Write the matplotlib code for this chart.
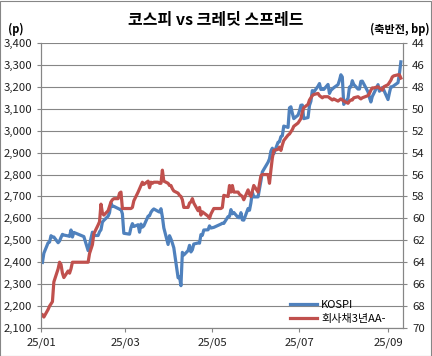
import matplotlib
matplotlib.use('Agg')
import matplotlib.pyplot as plt
import matplotlib.dates as mdates
from matplotlib.ticker import FuncFormatter
import pandas as pd

plt.rcParams['font.family'] = ['Noto Sans CJK KR', 'DejaVu Sans']

# trading days (2025) per month
days_jan = [2, 3, 6, 7, 8, 9, 10, 13, 14, 15, 16, 17, 20, 21, 22, 23, 24, 31]
days_feb = [3, 4, 5, 6, 7, 10, 11, 12, 13, 14, 17, 18, 19, 20, 21, 24, 25, 26, 27, 28]
days_mar = [4, 5, 6, 7, 10, 11, 12, 13, 14, 17, 18, 19, 20, 21, 24, 25, 26, 27, 28, 31]
days_apr = [1, 2, 3, 4, 7, 8, 9, 10, 11, 14, 15, 16, 17, 18, 21, 22, 23, 24, 25, 28, 29, 30]
days_may = [2, 7, 8, 9, 12, 13, 14, 15, 16, 19, 20, 21, 22, 23, 26, 27, 28, 29, 30]
days_jun = [2, 4, 5, 9, 10, 11, 12, 13, 16, 17, 18, 19, 20, 23, 24, 25, 26, 27, 30]
days_jul = [1, 2, 3, 4, 7, 8, 9, 10, 11, 14, 15, 16, 17, 18, 21, 22, 23, 24, 25, 28, 29, 30, 31]
days_aug = [1, 4, 5, 6, 7, 8, 11, 12, 13, 14, 18, 19, 20, 21, 22, 25, 26, 27, 28, 29]
days_sep = [1, 2, 3, 4, 5, 8, 9, 10]

kospi = [
    2399, 2441, 2489, 2492, 2521, 2515, 2515, 2489, 2497, 2513, 2527, 2524, 2520, 2518, 2547, 2515, 2536, 2517,
    2453, 2481, 2509, 2537, 2522, 2522, 2539, 2548, 2583, 2591, 2610, 2626, 2671, 2654, 2655, 2645, 2642, 2641, 2621, 2532,
    2528, 2558, 2576, 2563, 2571, 2537, 2574, 2560, 2566, 2610, 2612, 2628, 2637, 2643, 2632, 2629, 2644, 2607, 2557, 2481,
    2521, 2506, 2487, 2466, 2329, 2334, 2293, 2445, 2433, 2453, 2477, 2447, 2457, 2483, 2488, 2487, 2526, 2523, 2547, 2548, 2566, 2556,
    2559, 2574, 2578, 2577, 2608, 2609, 2640, 2621, 2627, 2604, 2603, 2626, 2593, 2592, 2645, 2637, 2671, 2720, 2698,
    2698, 2771, 2812, 2856, 2872, 2907, 2920, 2895, 2947, 2950, 2973, 2977, 3021, 3015, 3104, 3109, 3080, 3055, 3071,
    3090, 3116, 3117, 3055, 3060, 3115, 3134, 3183, 3176, 3203, 3215, 3188, 3192, 3188, 3211, 3170, 3184, 3190, 3196, 3210, 3230, 3255, 3245,
    3120, 3148, 3199, 3199, 3228, 3211, 3190, 3190, 3225, 3226, 3177, 3151, 3131, 3156, 3169, 3210, 3180, 3187, 3197, 3186,
    3142, 3173, 3200, 3200, 3205, 3219, 3260, 3314,
]

spread = [
    68.8, 69.0, 68.3, 68.0, 67.8, 67.6, 65.8, 64.6, 64.0, 64.2, 65.0, 65.4, 64.8, 65.0, 64.6, 64.0, 64.0, 64.0,
    64.0, 63.2, 62.8, 62.4, 61.4, 60.6, 60.3, 58.7, 59.5, 59.7, 59.3, 58.9, 58.5, 58.3, 58.2, 58.2, 57.7, 57.6, 59.1, 59.1,
    59.1, 59.1, 59.0, 58.4, 57.6, 57.3, 57.0, 56.7, 56.9, 56.6, 57.2, 56.7, 56.8, 56.7, 56.7, 56.8, 56.8, 55.6, 56.6, 56.8,
    57.0, 57.0, 57.3, 57.5, 57.7, 57.9, 58.0, 58.3, 59.0, 59.0, 58.6, 58.5, 58.2, 58.6, 59.3, 59.0, 59.7, 59.4, 59.5, 59.8, 60.0, 59.6,
    59.1, 59.1, 59.0, 57.9, 58.0, 57.0, 57.6, 57.0, 57.6, 57.6, 57.8, 57.9, 58.0, 58.3, 57.4, 57.8, 58.0, 57.5, 57.0,
    57.6, 56.1, 56.0, 56.0, 56.8, 55.6, 54.5, 53.8, 53.7, 53.5, 53.8, 53.3, 52.9, 52.4, 52.3, 52.1, 51.9, 51.6, 51.3,
    51.1, 50.9, 50.3, 49.9, 49.6, 49.2, 49.0, 48.8, 48.7, 48.6, 48.8, 48.9, 49.0, 48.9, 48.9, 49.0, 49.1, 49.2, 49.1, 49.3, 49.2, 49.1, 49.2,
    49.3, 49.5, 49.3, 49.2, 49.2, 49.0, 48.9, 49.0, 49.1, 49.0, 48.8, 48.6, 48.3, 48.1, 48.1, 48.0, 48.1, 48.2, 48.3, 48.0,
    47.8, 47.6, 47.4, 47.1, 47.0, 46.9, 46.9, 47.2,
]

months = [days_jan, days_feb, days_mar, days_apr, days_may, days_jun, days_jul, days_aug, days_sep]
dates = []
for m, dlist in enumerate(months, start=1):
    for d in dlist:
        dates.append(pd.Timestamp(2025, m, d))

blue = '#4F81BD'
red = '#C0504D'
gray = '#868686'

fig = plt.figure(figsize=(4.32, 3.56), dpi=100)
ax = fig.add_axes([41 / 432, 1 - 328 / 356, 362 / 432, 285 / 356])
ax2 = ax.twinx()

l1, = ax.plot(dates, kospi, color=blue, lw=2.3, label='KOSPI')
l2, = ax2.plot(dates, spread, color=red, lw=2.3, label='회사채3년AA-')

ax.set_ylim(2100, 3400)
ax.set_yticks(range(2100, 3401, 100))
ax.yaxis.set_major_formatter(FuncFormatter(lambda v, p: f'{int(v):,}'))
ax2.set_ylim(70, 44)
ax2.set_yticks(range(44, 71, 2))

ax.set_xlim(pd.Timestamp(2025, 1, 1), pd.Timestamp(2025, 9, 11, 12))
ax.set_xticks([pd.Timestamp(2025, m, 1) for m in (1, 3, 5, 7, 9)])
ax.xaxis.set_major_formatter(mdates.DateFormatter('%y/%m'))

ax.grid(axis='y', color=gray, lw=0.8)
ax.set_axisbelow(True)
for a in (ax, ax2):
    a.spines['top'].set_visible(False)
    for s in ('left', 'right', 'bottom'):
        a.spines[s].set_color(gray)
        a.spines[s].set_linewidth(0.8)
    a.tick_params(labelsize=8.2, colors=gray, labelcolor='#202020', length=3, width=0.8)
ax.tick_params(axis='x', pad=4)

ax2.legend([l1, l2], ['KOSPI', '회사채3년AA-'], loc='lower left', frameon=False,
           fontsize=8, handlelength=2.4, handletextpad=0.4, labelspacing=0.3,
           bbox_to_anchor=(0.66, -0.02))

fig.text(0.5, 0.945, '코스피 vs 크레딧 스프레드', ha='center', va='center',
         fontsize=11.5, fontweight='bold')
fig.text(0.018, 0.918, '(p)', ha='left', va='center', fontsize=8, fontweight='bold')
fig.text(0.994, 0.918, '(축반전, bp)', ha='right', va='center', fontsize=8, fontweight='bold')

fig.patches.append(plt.Rectangle((0.001, 0.001), 0.997, 0.997, transform=fig.transFigure,
                                 fill=False, edgecolor=gray, lw=0.8))

fig.savefig('out.png', dpi=100)
